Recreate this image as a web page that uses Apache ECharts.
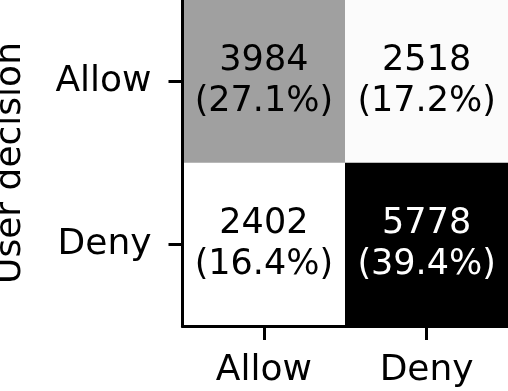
<!DOCTYPE html>
<html>
<head>
<meta charset="utf-8">
<script src="https://cdn.jsdelivr.net/npm/echarts@6/dist/echarts.min.js"></script>
<style>
html,body{margin:0;padding:0;background:#fff;}
#chart{width:508px;height:391px;}
</style>
</head>
<body>
<div id="chart"></div>
<script>
var xCategories = ['Allow', 'Deny'];
var yCategories = ['Allow', 'Deny'];
var yAxisTitle = 'User decision';
// counts[row][col]: row = user decision, col = predicted
var rowAllow = [3984, 2518];
var rowDeny = [2402, 5778];
var percentAllow = ['27.1', '17.2'];
var percentDeny = ['16.4', '39.4'];

var counts = [rowAllow, rowDeny];
var percents = [percentAllow, percentDeny];
var greys = ['#ffffff', '#f0f0f0', '#d9d9d9', '#bdbdbd', '#969696', '#737373', '#525252', '#252525', '#000000'];
var allVals = rowAllow.concat(rowDeny);
var vmin = Math.min.apply(null, allVals);
var vmax = Math.max.apply(null, allVals);
var thresh = (vmin + vmax) / 2;

var data = [];
for (var r = 0; r < counts.length; r++) {
  for (var c = 0; c < counts[r].length; c++) {
    var v = counts[r][c];
    data.push({
      value: [c, r, v, percents[r][c]],
      label: { color: v > thresh ? '#ffffff' : '#000000' }
    });
  }
}

var FONT = 'DejaVu Sans';
var chart = echarts.init(document.getElementById('chart'), null, { renderer: 'canvas' });
chart.setOption({
  animation: false,
  backgroundColor: '#ffffff',
  grid: { left: 182.5, right: 0, top: 0, bottom: 65, containLabel: false, outerBoundsMode: 'none', show: true, borderColor: '#000', borderWidth: 3 },
  xAxis: {
    type: 'category',
    data: xCategories,
    position: 'bottom',
    z: 10,
    axisLine: { show: true, lineStyle: { color: '#000', width: 3 } },
    axisTick: { show: true, alignWithLabel: true, length: 14, lineStyle: { color: '#000', width: 3 } },
    axisLabel: { fontFamily: FONT, fontSize: 36, color: '#000', margin: 27 },
    splitLine: { show: false }
  },
  yAxis: {
    type: 'category',
    data: yCategories,
    inverse: true,
    z: 10,
    name: yAxisTitle,
    nameLocation: 'middle',
    nameRotate: 90,
    nameGap: 154,
    nameTextStyle: { fontFamily: FONT, fontSize: 36, color: '#000' },
    axisLine: { show: true, lineStyle: { color: '#000', width: 3 } },
    axisTick: { show: true, alignWithLabel: true, length: 14, lineStyle: { color: '#000', width: 3 } },
    axisLabel: { fontFamily: FONT, fontSize: 36, color: '#000', margin: 31 },
    splitLine: { show: false }
  },
  visualMap: {
    show: false,
    min: vmin,
    max: vmax,
    dimension: 2,
    inRange: { color: greys }
  },
  series: [{
    type: 'heatmap',
    data: data,
    label: {
      show: true,
      fontFamily: FONT,
      fontSize: 35,
      lineHeight: 41,
      formatter: function (p) { return p.value[2] + '\n(' + p.value[3] + '%)'; }
    },
    emphasis: { disabled: true }
  }]
});
</script>
</body>
</html>
